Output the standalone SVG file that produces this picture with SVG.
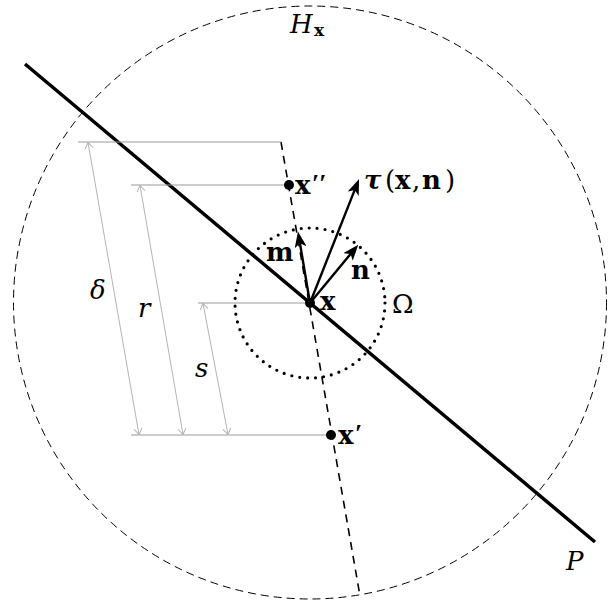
<svg xmlns="http://www.w3.org/2000/svg" width="610" height="605" viewBox="0 0 610 605">
<style>
.lbl{font-family:"DejaVu Serif","Liberation Serif",serif;font-size:26px;fill:#000}
.b{font-weight:bold}
.i{font-style:italic}
.pr{font-family:"Liberation Serif",serif;font-weight:bold;font-size:26px}
.dim{stroke:#b4b4b4;stroke-width:1;fill:none}
.ref{stroke:#999;stroke-width:1;fill:none}
.arr{stroke:#000;stroke-width:2.4;fill:none}
.pt{fill:#000}
</style>
<defs>
<marker id="ah" viewBox="0 0 16 12" refX="11" refY="6" markerWidth="16" markerHeight="12" markerUnits="userSpaceOnUse" orient="auto">
<path d="M0,0 L16,6 L0,12 L4,6 z" fill="#000"/>
</marker>
<marker id="oh" viewBox="-7 -5 8 10" refX="0" refY="0" markerWidth="8" markerHeight="10" markerUnits="userSpaceOnUse" orient="auto-start-reverse">
<path d="M-6,-4 L0,0 L-6,4" fill="none" stroke="#b4b4b4" stroke-width="1"/>
</marker>
</defs>
<rect width="610" height="605" fill="#fff"/>
<g id="circle-H">
<circle cx="310" cy="302.5" r="296.5" fill="none" stroke="#000" stroke-width="1" stroke-dasharray="8 5"/>
<text class="lbl i" x="290" y="33" font-size="28">H<tspan class="b" font-style="normal" font-size="17" x="314" y="36">x</tspan></text>
</g>
<g id="circle-Omega">
<circle cx="310" cy="303" r="75" fill="none" stroke="#000" stroke-width="3.2" stroke-linecap="round" stroke-dasharray="0 8"/>
<text class="lbl" x="392" y="313" font-size="27">Ω</text>
</g>
<g id="plane-P">
<line x1="25" y1="64" x2="595" y2="542" stroke="#000" stroke-width="3.5"/>
<text class="lbl i" x="566" y="570" font-size="28">P</text>
</g>
<g id="connectors">
<line x1="281" y1="142" x2="360" y2="596" stroke="#000" stroke-width="1.6" stroke-dasharray="8 6"/>
<line class="ref" x1="78" y1="142" x2="281" y2="142"/>
<line class="ref" x1="131" y1="185" x2="289" y2="185"/>
<line class="ref" x1="198" y1="303" x2="310" y2="303"/>
<line class="ref" x1="131" y1="435" x2="331" y2="435"/>
<line class="dim" x1="88" y1="142.5" x2="139" y2="434.5" marker-start="url(#oh)" marker-end="url(#oh)"/>
<line class="dim" x1="140" y1="185.5" x2="183" y2="434.5" marker-start="url(#oh)" marker-end="url(#oh)"/>
<line class="dim" x1="203" y1="303.5" x2="228" y2="434.5" marker-start="url(#oh)" marker-end="url(#oh)"/>
<line class="arr" x1="310" y1="303" x2="298.8" y2="236.4" marker-end="url(#ah)"/>
<line class="arr" x1="310" y1="303" x2="355.1" y2="248.5" marker-end="url(#ah)"/>
<line class="arr" x1="310" y1="303" x2="357.2" y2="183.6" marker-end="url(#ah)"/>
</g>
<g id="dim-labels">
<text class="lbl i" x="90" y="299">δ</text>
<text class="lbl i" x="138" y="317">r</text>
<text class="lbl i" x="195" y="377">s</text>
</g>
<g id="point-x">
<circle class="pt" cx="310" cy="303" r="5"/>
<text class="lbl b" x="320" y="310">x</text>
</g>
<g id="point-x2">
<circle class="pt" cx="289" cy="185" r="5"/>
<text class="lbl b" x="295" y="194">x<tspan class="pr" x="312" y="192">′′</tspan></text>
</g>
<g id="point-x1">
<circle class="pt" cx="331" cy="435" r="5"/>
<text class="lbl b" x="338" y="444">x<tspan class="pr" x="355" y="442">′</tspan></text>
</g>
<g id="vec-m"><text class="lbl b" x="266" y="261">m</text></g>
<g id="vec-n"><text class="lbl b" x="351" y="279">n</text></g>
<g id="vec-tau"><text class="lbl" x="364" y="189"><tspan class="b i">τ</tspan><tspan x="385">(</tspan><tspan class="b" x="395">x</tspan><tspan x="412">,</tspan><tspan class="b" x="422">n</tspan><tspan x="445">)</tspan></text></g>
</svg>
